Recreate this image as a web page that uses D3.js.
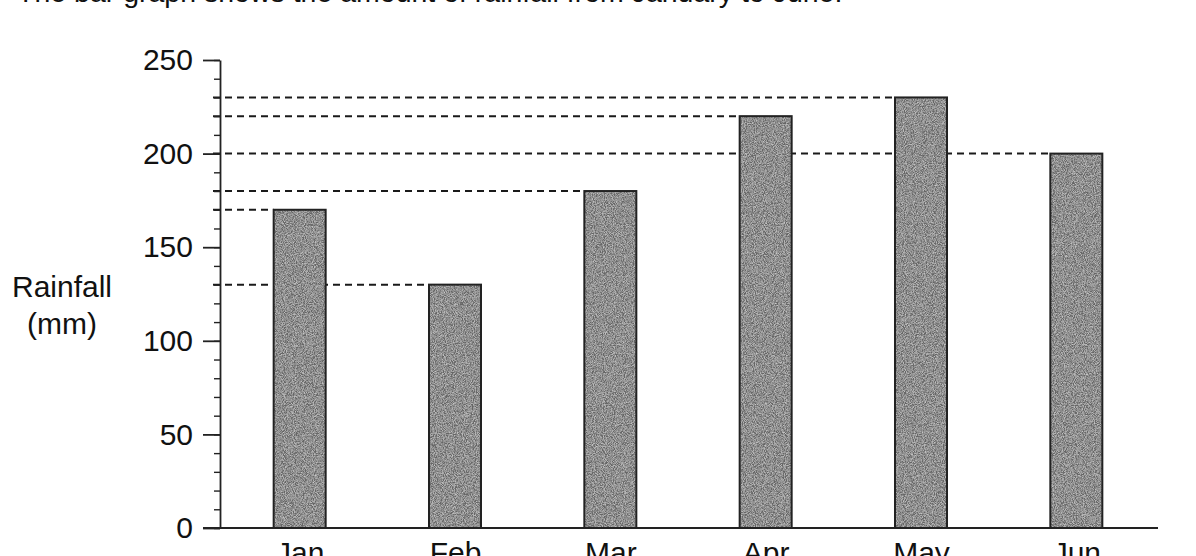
<!DOCTYPE html>
<html>
<head>
<meta charset="utf-8">
<script src="https://cdn.jsdelivr.net/npm/d3@7"></script>
<style>
  body { margin: 0; background: #fff; }
  text { font-family: "Liberation Sans", Arial, sans-serif; fill: #111; }
</style>
</head>
<body>
<div id="chart"></div>
<script>
// data
var months = ["Jan", "Feb", "Mar", "Apr", "May", "Jun"];
var rainfall = [170, 130, 180, 220, 230, 200];
var yTicks = [0, 50, 100, 150, 200, 250];
var yLabel = ["Rainfall", "(mm)"];
var title = "The bar graph shows the amount of rainfall from January to June.";

var width = 1196, height = 556;
var axisX = 220, baseY = 528, topY = 60;
var barWidth = 52;

var data = months.map(function(m, i) { return {month: m, value: rainfall[i]}; });

var svg = d3.select("#chart").append("svg")
  .attr("width", width)
  .attr("height", height);

// grainy grey fill like the printed bars
var defs = svg.append("defs");
var grain = defs.append("filter").attr("id", "grain")
  .attr("x", 0).attr("y", 0).attr("width", 1).attr("height", 1);
grain.append("feTurbulence")
  .attr("type", "fractalNoise")
  .attr("baseFrequency", 1.1)
  .attr("numOctaves", 2)
  .attr("seed", 3)
  .attr("result", "noise");
grain.append("feColorMatrix")
  .attr("in", "noise")
  .attr("type", "matrix")
  .attr("values", "0 0 0 0 0.72  0 0 0 0 0.72  0 0 0 0 0.72  1.4 0 0 0 -0.45")
  .attr("result", "grey");
grain.append("feComposite")
  .attr("in", "grey")
  .attr("in2", "SourceGraphic")
  .attr("operator", "in")
  .attr("result", "speck");
grain.append("feMerge").call(function(m) {
  m.append("feMergeNode").attr("in", "SourceGraphic");
  m.append("feMergeNode").attr("in", "speck");
});

var x = d3.scalePoint()
  .domain(months)
  .range([222, 1154])
  .padding(0.5);

var y = d3.scaleLinear()
  .domain([0, 250])
  .range([baseY, topY]);

// title, mostly cut off at the top edge
svg.append("text")
  .attr("x", 17)
  .attr("y", 2)
  .style("font-size", "28.5px")
  .text(title);

// dashed guide lines from axis to each bar
svg.selectAll(".guide")
  .data(data)
  .enter().append("line")
  .attr("class", "guide")
  .attr("x1", axisX - 7)
  .attr("x2", function(d) { return x(d.month) - barWidth / 2; })
  .attr("y1", function(d) { return y(d.value); })
  .attr("y2", function(d) { return y(d.value); })
  .attr("stroke", "#1a1a1a")
  .attr("stroke-width", 2)
  .attr("stroke-dasharray", "7,5");

// bars
svg.selectAll(".bar")
  .data(data)
  .enter().append("rect")
  .attr("class", "bar")
  .attr("x", function(d) { return x(d.month) - barWidth / 2; })
  .attr("width", barWidth)
  .attr("y", function(d) { return y(d.value); })
  .attr("height", function(d) { return baseY - y(d.value); })
  .attr("fill", "#666")
  .attr("filter", "url(#grain)");

svg.selectAll(".edge")
  .data(data)
  .enter().append("rect")
  .attr("class", "edge")
  .attr("x", function(d) { return x(d.month) - barWidth / 2; })
  .attr("width", barWidth)
  .attr("y", function(d) { return y(d.value); })
  .attr("height", function(d) { return baseY - y(d.value); })
  .attr("fill", "none")
  .attr("stroke", "#222")
  .attr("stroke-width", 2);

// minor ticks every 10
var minor = svg.append("g")
  .attr("transform", "translate(" + axisX + ",0)")
  .call(d3.axisLeft(y).tickValues(d3.range(0, 251, 10)).tickSize(6).tickFormat(""));
minor.select(".domain").remove();
minor.selectAll("line").attr("stroke", "#222").attr("stroke-width", 1.4);

// major ticks and labels
var yAxis = svg.append("g")
  .attr("transform", "translate(" + axisX + ",0)")
  .call(d3.axisLeft(y).tickValues(yTicks).tickSize(17).tickPadding(10).tickSizeOuter(0));
yAxis.select(".domain").attr("stroke", "#222").attr("stroke-width", 1.8);
yAxis.selectAll("line").attr("stroke", "#222").attr("stroke-width", 1.8);
yAxis.selectAll("text")
  .style("font-size", "30px")
  .style("font-family", "'Liberation Sans', Arial, sans-serif")
  .attr("fill", "#111");

// bottom axis line and month labels
var xAxis = svg.append("g")
  .attr("transform", "translate(0," + baseY + ")")
  .call(d3.axisBottom(x).tickSize(0).tickPadding(14));
xAxis.select(".domain")
  .attr("d", "M" + (axisX - 17) + ",0H1158")
  .attr("stroke", "#222")
  .attr("stroke-width", 1.8);
xAxis.selectAll("text")
  .style("font-size", "30px")
  .style("font-family", "'Liberation Sans', Arial, sans-serif")
  .attr("fill", "#111");

// y axis title
svg.append("text")
  .attr("x", 62)
  .attr("y", 297)
  .attr("text-anchor", "middle")
  .style("font-size", "30px")
  .text(yLabel[0]);
svg.append("text")
  .attr("x", 62)
  .attr("y", 334)
  .attr("text-anchor", "middle")
  .style("font-size", "30px")
  .text(yLabel[1]);
</script>
</body>
</html>
